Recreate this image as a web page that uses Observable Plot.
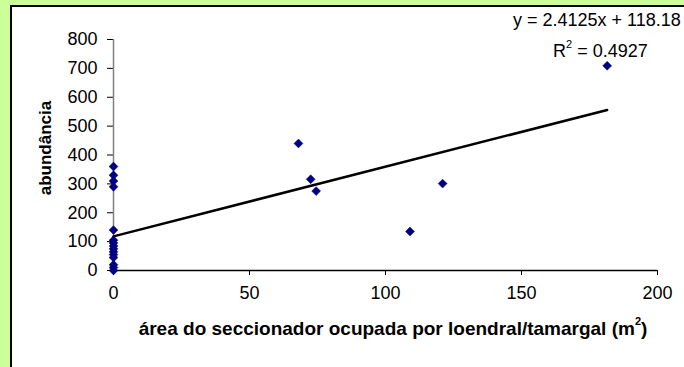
<!DOCTYPE html>
<html><head><meta charset="utf-8">
<script src="https://cdn.jsdelivr.net/npm/d3@7"></script>
<script src="https://cdn.jsdelivr.net/npm/@observablehq/plot@0.6"></script>
<style>
body{margin:0;background:#CCFF99;width:684px;height:367px;overflow:hidden;position:relative;font-family:"Liberation Sans",Arial,sans-serif;}
#box{position:absolute;left:10px;top:5px;width:700px;height:400px;background:#fff;border-left:2px solid #000;border-top:2px solid #000;}
#chart{position:absolute;left:0;top:0;}
.lbl{position:absolute;font-size:18px;color:#000;white-space:nowrap;line-height:1;}
.b{font-weight:bold;}
sup{font-size:11px;vertical-align:top;position:relative;top:-3px;}
</style></head><body>
<div id="box"></div>
<div id="chart"></div>
<div class="lbl" style="left:513px;top:11px">y = 2.4125x + 118.18</div>
<div class="lbl" style="left:553px;top:42px">R<sup>2</sup> = 0.4927</div>
<div class="lbl b" style="left:45px;top:148px;font-size:17px;transform:translate(-50%,-50%) rotate(-90deg)">abundância</div>
<div class="lbl b" style="left:393px;top:328px;font-size:19px;transform:translate(-50%,-50%)">área do seccionador ocupada por loendral/tamargal (m<sup>2</sup>)</div>
<script>
const xValues = [0,0,0,0,0,0,0,0,0,0,0,0,0,0,0, 68, 72.5, 74.5, 109, 121, 181.5];
const yValues = [360,330,310,290,140,105,95,85,75,65,55,45,20,10,0, 440, 316, 275, 135, 301, 709];
const xTicks = [0,50,100,150,200];
const yTicks = [0,100,200,300,400,500,600,700,800];
const slope = 2.4125, intercept = 118.18;
const trendX = [0, 181.5];

const points = xValues.map((x,i)=>({x, y:yValues[i]}));
const trend = trendX.map(x=>({x, y: slope*x + intercept}));

const chart = Plot.plot({
  width:684, height:367,
  marginLeft:113, marginRight:27, marginTop:39, marginBottom:97,
  style:{background:"transparent", fontFamily:'"Liberation Sans",Arial,sans-serif', fontSize:"18px", color:"#000"},
  x:{domain:[0,200]},
  y:{domain:[0,800]},
  marks:[
    Plot.axisY({ticks:yTicks, tickSize:6, tickPadding:10, label:null}),
    Plot.axisX({ticks:xTicks, tickSize:5, tickPadding:11, label:null}),
    Plot.ruleX([0],{stroke:"#808080", strokeWidth:1.5}),
    Plot.ruleY([0],{stroke:"#000", strokeWidth:1.5}),
    Plot.line(trend,{x:"x", y:"y", stroke:"#000", strokeWidth:2.5}),
    Plot.dot(points,{x:"x", y:"y", symbol:"diamond2", r:4, fill:"#000080", stroke:"#000080", strokeWidth:0.5})
  ]
});
document.getElementById("chart").appendChild(chart);
</script>
</body></html>
